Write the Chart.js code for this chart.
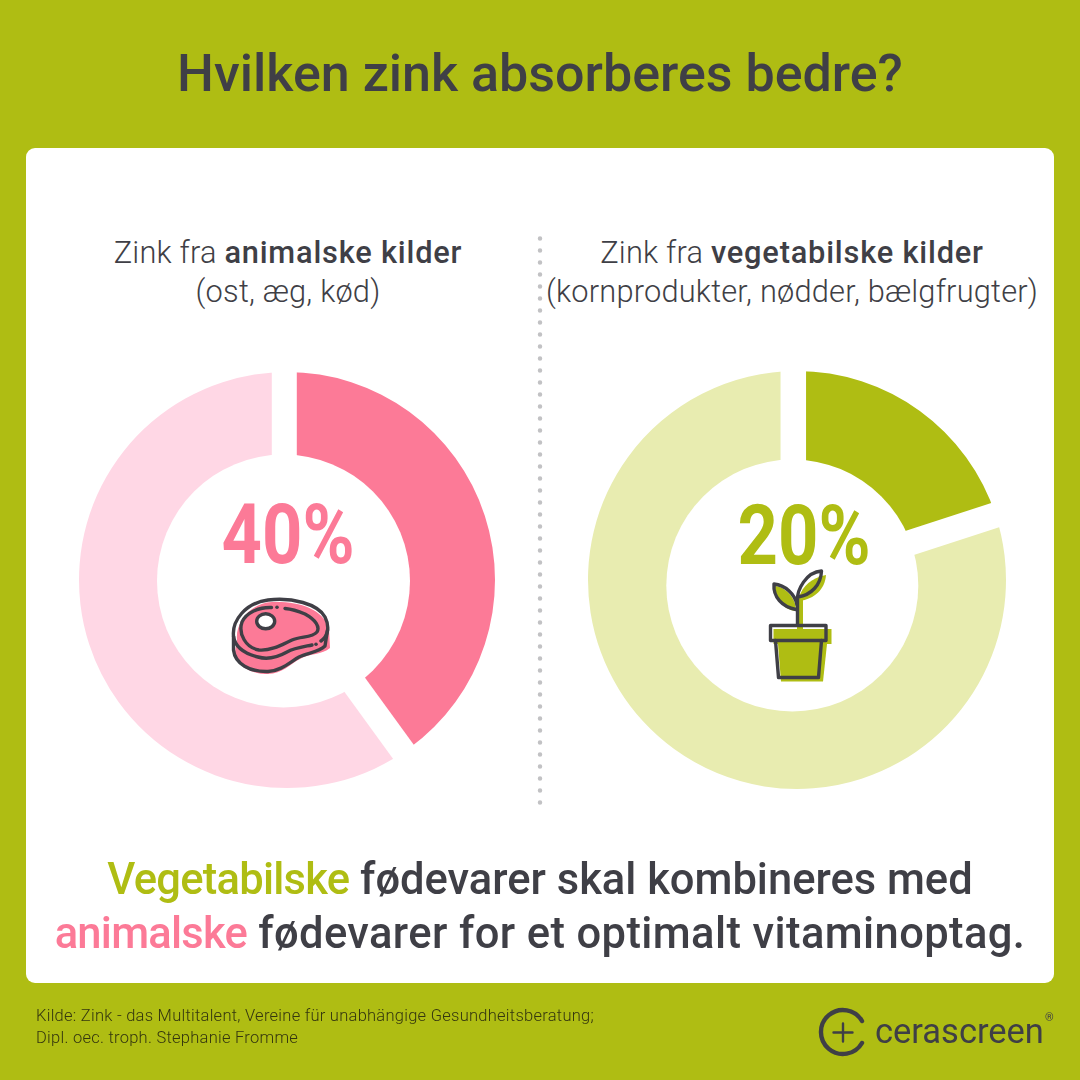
<!DOCTYPE html>
<html lang="da">
<head>
<meta charset="utf-8">
<title>Hvilken zink absorberes bedre?</title>
<script src="https://cdn.jsdelivr.net/npm/chart.js@4"></script>
<style>
  html, body { margin: 0; padding: 0; }
  body { width: 1080px; height: 1080px; position: relative; overflow: hidden; background: #afbd13;
         font-family: Roboto, sans-serif; color: #3f3f46; }
  .card { position: absolute; left: 26px; top: 148px; width: 1028px; height: 835px; background: #fff; border-radius: 9px; }
  .t { position: absolute; white-space: nowrap; text-align: center; transform: translateX(-50%); }
  b { font-weight: 500; letter-spacing: .8px; }
  .head { font-size: 30.8px; font-weight: 300; line-height: 39px; letter-spacing: .2px; }
  .pct { font-size: 83px; font-weight: 700; line-height: 80px; transform: translateX(-50%) scaleX(.85); }
  .big { font-size: 43.5px; font-weight: 500; line-height: 54px; }
  .big span { letter-spacing: -.75px; }
  .src { position: absolute; left: 36px; top: 1005px; font-size: 16.5px; font-weight: 300; line-height: 22px; letter-spacing: .26px; color: #34360f; white-space: nowrap; }
  .ring { position: absolute; width: 440px; height: 440px; }
  canvas { position: absolute; }
  svg { position: absolute; left: 0; top: 0; }
</style>
</head>
<body>
<div class="card"></div>
<div class="t" id="title" style="left:540px;top:43px;font-size:52px;font-weight:500;line-height:62px"></div>

<div class="t head" id="headA" style="left:288px;top:233px"></div>
<div class="t head" id="headB" style="left:792px;top:233px"></div>

<div class="ring" style="left:67px;top:360px"><canvas id="ringA"></canvas></div>
<div class="ring" style="left:577px;top:359.500px"><canvas id="ringB"></canvas></div>

<div class="t pct" id="pctA" style="left:287.500px;top:495px;color:#fc7a97"></div>
<div class="t pct" id="pctB" style="left:803.500px;top:495.500px;color:#afbd13"></div>

<svg width="1080" height="1080" viewBox="0 0 1080 1080" fill="none" stroke-linecap="round" stroke-linejoin="round">
  <!-- divider -->
  <line x1="540" y1="238.500" x2="540" y2="805" stroke="#c2c2c4" stroke-width="4.500" stroke-dasharray="0.1 11.900"/>
  <!-- steak: flat colour under the outline -->
  <path fill="#fc7a97" d="M237,640 C235,623 250,603 272,602 C298,601 322,608 329,628 L330,648 C322,655 310,653 300,659 C290,664 282,674 268,674 C252,674 238,668 235,652 Z"/>
  <g stroke="#3f3f46" stroke-width="3.400">
    <path d="M321,641 C328,636 330,627 325,617 C318,604 292,597 268,600 C245,603 232,621 233.500,636 C235,648 246,654 258,657 C268,660 278,657 287,652 C294,648 302,647 312,645"/>
    <path d="M233.500,636 L233.500,650 C235,664 250,672 268,671.500 C281,671 290,662 299,657 C307,653 319,652 325,646 L327.500,630"/>
    <path d="M271.500,607.500 C258,607 246,613 242,622 C238,634 246,648 259,650 C272,651 283,644 292,640 C301,636 312,638 317,632 C320,627 316,620 305,614 C298,611 291,609 285,608.500"/>
    <ellipse cx="265.700" cy="621.300" rx="9" ry="7.500" fill="#fff"/>
  </g>
  <circle cx="277" cy="607.300" r="1.800" fill="#3f3f46"/>
  <circle cx="316" cy="644.300" r="1.800" fill="#3f3f46"/>
  <!-- seedling: green layer sits slightly below and right of its outline -->
  <g fill="#afbd13">
    <path d="M773.500,629 H831.500 V644 H773.500 Z"/>
    <path d="M778,644 H827 L823,681.500 H781 Z"/>
    <path d="M797,630 V598 H803 V630 Z"/>
    <path d="M799,597 C803,586 811,578 826,575 C825,589 815,599 799,601 Z"/>
    <path d="M775,586 C785,587 796,597 796,611 C784,610 775,600 775,586 Z"/>
  </g>
  <g stroke="#3f3f46" stroke-width="3.400">
    <path d="M770.500,625.500 H826 V640.500 H770.500 Z"/>
    <path d="M775.500,640.500 L778.500,677.500 H818.500 L821.500,640.500"/>
    <path d="M797.500,625 V600 C797,590 806,572 821.500,571 C821,585 811,595 798,597"/>
    <path d="M796,609.500 C782,607 773,597 774,584 C785,585 795,594 797,605"/>
  </g>
  <!-- logo mark -->
  <path stroke="#3f3f46" stroke-width="4.400" d="M862,1021 A22,22 0 1,0 862,1043"/>
  <path stroke="#3f3f46" stroke-width="2.400" d="M843,1023.500 V1041.500 M833.500,1032.500 H852.500"/>
</svg>
<div id="brand" style="position:absolute;left:875px;top:1010px;font-size:35px;line-height:44px;color:#3f3f46;white-space:nowrap;transform:scaleX(.985);transform-origin:left top"></div>
<div style="position:absolute;left:1045px;top:1012px;font-size:11px;line-height:12px;color:#3f3f46">®</div>

<div class="t big" id="lineOne" style="left:540px;top:853px"></div>
<div class="t big" id="lineTwo" style="left:540px;top:907px;letter-spacing:.4px"></div>
<div class="src" id="src"></div>

<script>
// Zinc absorption shares, absorbed first and the remainder second
const animalLabels = ['Optaget', 'Ikke optaget'];
const animalValues = [40, 60];
const animalColors = ['#fc7a97', '#ffd7e5'];
const plantLabels = ['Optaget', 'Ikke optaget'];
const plantValues = [20, 80];
const plantColors = ['#afbd13', '#e8ecb0'];

const titleText = 'Hvilken zink absorberes bedre?';
const brandName = 'cerascreen';
const sourceLines = ['Kilde: Zink - das Multitalent, Vereine für unabhängige Gesundheitsberatung;',
                     'Dipl. oec. troph. Stephanie Fromme'];

// Cuts straight white channels along each slice boundary and clears the hole,
// so the gaps keep parallel edges and the hole can sit a little off the ring's centre.
const ringCuts = {
  id: 'ringCuts',
  afterDatasetsDraw(chart, args, opts) {
    const { ctx } = chart;
    const arcs = chart.getDatasetMeta(0).data;
    ctx.save();
    ctx.strokeStyle = '#fff';
    ctx.fillStyle = '#fff';
    ctx.lineWidth = opts.gap;
    ctx.lineCap = 'butt';
    arcs.forEach((arc, i) => {
      const a = arc.startAngle;
      const nx = -Math.sin(a) * opts.shifts[i], ny = Math.cos(a) * opts.shifts[i];
      const reach = arc.outerRadius + 6;
      ctx.beginPath();
      ctx.moveTo(arc.x + nx, arc.y + ny);
      ctx.lineTo(arc.x + nx + Math.cos(a) * reach, arc.y + ny + Math.sin(a) * reach);
      ctx.stroke();
    });
    ctx.beginPath();
    ctx.arc(arcs[0].x + opts.hole[0], arcs[0].y + opts.hole[1], opts.hole[2], 0, Math.PI * 2);
    ctx.fill();
    ctx.restore();
  }
};

function ring(id, labels, values, colors, radius, cuts) {
  return new Chart(document.getElementById(id), {
    type: 'doughnut',
    data: { labels, datasets: [{ data: values, backgroundColor: colors, borderWidth: 0 }] },
    options: {
      responsive: true, maintainAspectRatio: false, animation: false,
      radius, cutout: 100, layout: { padding: 0 },
      plugins: { legend: { display: false }, tooltip: { enabled: false }, ringCuts: cuts }
    },
    plugins: [ringCuts]
  });
}
ring('ringA', animalLabels, animalValues, animalColors, 208, { gap: 25, shifts: [-2.7, 6.8], hole: [-3.5, 1, 126.5] });
ring('ringB', plantLabels, plantValues, plantColors, 209, { gap: 25.5, shifts: [-3.7, -0.4], hole: [-4.7, 5.5, 126] });

const set = (id, html) => { document.getElementById(id).innerHTML = html; };
set('title', titleText);
set('brand', brandName);
set('headA', 'Zink fra <b>animalske kilder</b><br>(ost, æg, kød)');
set('headB', 'Zink fra <b>vegetabilske kilder</b><br>(kornprodukter, nødder, bælgfrugter)');
set('pctA', animalValues[0] + '%');
set('pctB', plantValues[0] + '%');
set('lineOne', '<span style="color:#afbd13">Vegetabilske</span> fødevarer skal kombineres med');
set('lineTwo', '<span style="color:#fc7a97">animalske</span> fødevarer for et optimalt vitaminoptag.');
set('src', sourceLines.join('<br>'));
</script>
</body>
</html>
